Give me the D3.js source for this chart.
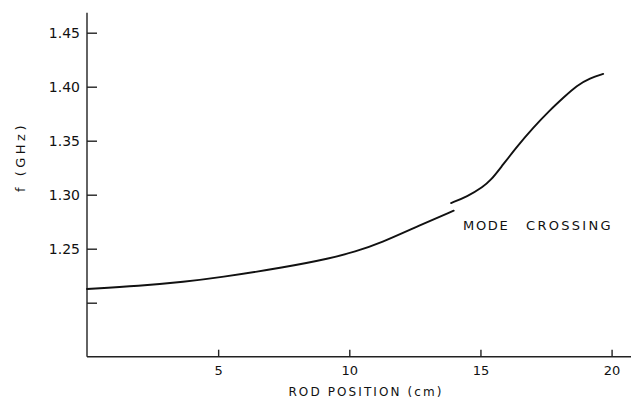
<!DOCTYPE html>
<html>
<head>
<meta charset="utf-8">
<script src="https://cdn.jsdelivr.net/npm/d3@7"></script>
<style>
  html, body { margin: 0; padding: 0; background: #fff; }
  svg { display: block; }
  text { font-family: "DejaVu Sans", sans-serif; fill: #111; }
</style>
</head>
<body>
<svg id="chart" width="631" height="400"></svg>
<script>
// Resonant frequency vs. rod position, below and above the mode crossing
const lowerPos  = [0, 2, 3.74, 5, 7.56, 9.27, 10.22, 11.18, 12.71, 13.98];
const lowerFreq = [1.2127, 1.2155, 1.2194, 1.2231, 1.2328, 1.2410, 1.2472, 1.2550, 1.2719, 1.2852];
const upperPos  = [13.88, 14.49, 15.11, 15.40, 15.75, 16.38, 17.00, 17.65, 18.19, 18.67, 19.18, 19.68];
const upperFreq = [1.2923, 1.2981, 1.3074, 1.3136, 1.3243, 1.3442, 1.3618, 1.3784, 1.3905, 1.4011, 1.4081, 1.4118];

const xTicks = [5, 10, 15, 20];
const yTicks = [1.20, 1.25, 1.30, 1.35, 1.40, 1.45];
const yTickLabels = ["", "1.25", "1.30", "1.35", "1.40", "1.45"];

const svg = d3.select("#chart");
const x = d3.scaleLinear().domain([0, 20.74]).range([87, 631]);
const y = d3.scaleLinear().domain([1.20, 1.45]).range([302.7, 32.7]);
const yBottom = y(1.15);
const yTop = y(1.4685);

// axes
const xAxis = d3.axisBottom(x).tickValues(xTicks).tickSize(-7).tickPadding(9).tickFormat(d3.format("d"));
const gx = svg.append("g").attr("transform", `translate(0,${yBottom})`).call(xAxis);
gx.select(".domain").attr("d", `M${x(0)},0H631`);
gx.selectAll("path, line").attr("stroke", "#222").attr("stroke-width", 1.4);
gx.selectAll("text").attr("font-size", 13).attr("dy", "0.71em")
  .style("font-family", "'DejaVu Sans', sans-serif");

const yAxis = d3.axisLeft(y).tickValues(yTicks).tickSize(-10).tickPadding(7)
  .tickFormat((d, i) => yTickLabels[i]);
const gy = svg.append("g").attr("transform", `translate(${x(0)},0)`).call(yAxis);
gy.select(".domain").attr("d", `M0,${yTop}V${yBottom}`);
gy.selectAll("path, line").attr("stroke", "#222").attr("stroke-width", 1.4);
gy.selectAll("text").attr("font-size", 14)
  .style("font-family", "'DejaVu Sans', sans-serif");

// curves (B-spline through the read-off points for a smooth pen line)
const line = d3.line().x(d => x(d[0])).y(d => y(d[1])).curve(d3.curveBasis);
[[lowerPos, lowerFreq], [upperPos, upperFreq]].forEach(([px, fy]) => {
  svg.append("path")
    .datum(px.map((v, i) => [v, fy[i]]))
    .attr("d", line)
    .attr("fill", "none")
    .attr("stroke", "#111")
    .attr("stroke-width", 1.9)
    .attr("stroke-linecap", "round");
});

// labels
svg.append("text")
  .attr("x", 366).attr("y", 396)
  .attr("text-anchor", "middle")
  .attr("font-size", 12).attr("letter-spacing", 2.1)
  .text("ROD POSITION (cm)");

svg.append("text")
  .attr("transform", "translate(25,157) rotate(-90)")
  .attr("text-anchor", "middle")
  .attr("font-size", 13).attr("letter-spacing", 3.5)
  .text("f (GHz)");

svg.append("text")
  .attr("x", 463).attr("y", 229.5)
  .attr("font-size", 13).attr("letter-spacing", 1.7)
  .text("MODE");
svg.append("text")
  .attr("x", 526).attr("y", 229.5)
  .attr("font-size", 13).attr("letter-spacing", 2.3)
  .text("CROSSING");
</script>
</body>
</html>
